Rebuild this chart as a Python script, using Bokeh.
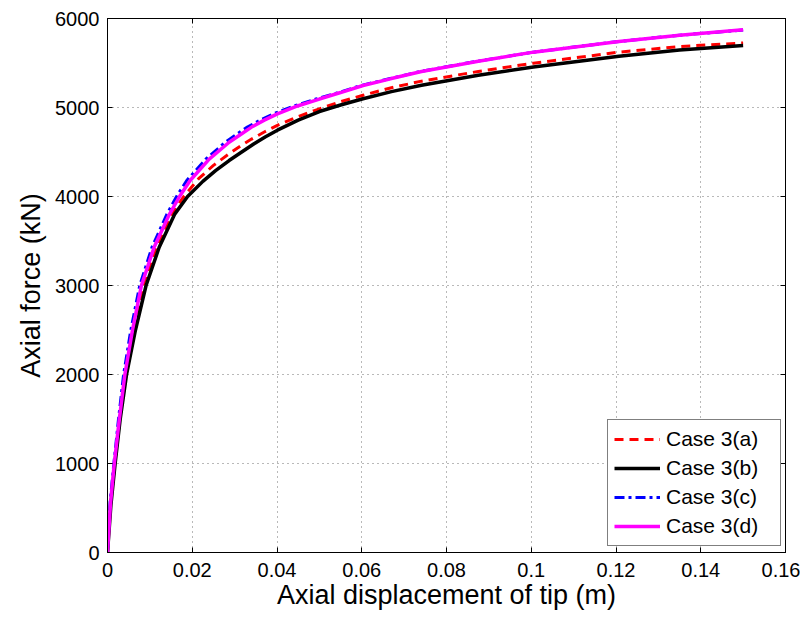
from bokeh.plotting import figure
from bokeh.models import LinearAxis, Range1d, FixedTicker, Legend, LegendItem
from bokeh.embed import file_html
from bokeh.resources import INLINE

# Case 3(a) - red dashed
xa = [0, 0.0007, 0.0017, 0.0029, 0.0042, 0.0061, 0.0084, 0.0115, 0.0152, 0.0180, 0.0215, 0.0250, 0.0287, 0.0315, 0.0340, 0.0370, 0.0401, 0.0450, 0.0500, 0.0550, 0.0603, 0.0670, 0.0741, 0.0875, 0.1005, 0.1207, 0.1350, 0.1500]
ya = [0, 540, 1000, 1500, 2000, 2500, 3000, 3430, 3805, 4000, 4200, 4350, 4480, 4570, 4645, 4725, 4800, 4898, 4985, 5065, 5138, 5222, 5296, 5405, 5498, 5622, 5685, 5725]
# Case 3(b) - black solid
xb = [0, 0.0008, 0.0018, 0.0030, 0.0045, 0.0066, 0.0091, 0.0122, 0.0159, 0.0189, 0.0225, 0.0255, 0.0287, 0.0315, 0.0345, 0.0372, 0.0401, 0.0450, 0.0500, 0.0550, 0.0603, 0.0670, 0.0741, 0.0875, 0.1005, 0.1207, 0.1350, 0.1500]
yb = [0, 530, 1000, 1500, 2000, 2500, 3000, 3430, 3805, 4000, 4170, 4290, 4404, 4494, 4590, 4668, 4745, 4858, 4955, 5028, 5098, 5178, 5250, 5362, 5455, 5575, 5645, 5697]
# Case 3(c) - blue dash-dot
xc = [0, 0.0006, 0.0015, 0.0026, 0.0038, 0.0055, 0.0076, 0.0105, 0.0140, 0.0163, 0.0187, 0.0232, 0.0278, 0.0305, 0.0330, 0.0360, 0.0392, 0.0442, 0.0492, 0.0545, 0.0598, 0.0667, 0.0738, 0.0873, 0.1005, 0.1207, 0.1350, 0.1500]
yc = [0, 560, 1000, 1500, 2000, 2500, 3000, 3430, 3800, 4000, 4180, 4420, 4610, 4700, 4780, 4858, 4929, 5020, 5095, 5168, 5247, 5325, 5404, 5520, 5622, 5742, 5812, 5870]
# Case 3(d) - magenta solid
xd = [0, 0.0007, 0.0016, 0.0028, 0.0041, 0.0059, 0.0080, 0.0110, 0.0146, 0.0170, 0.0195, 0.0240, 0.0287, 0.0315, 0.0340, 0.0370, 0.0401, 0.0450, 0.0500, 0.0550, 0.0603, 0.0670, 0.0741, 0.0875, 0.1005, 0.1207, 0.1350, 0.1500]
yd = [0, 550, 1000, 1500, 2000, 2500, 3000, 3430, 3800, 4000, 4180, 4420, 4610, 4700, 4780, 4858, 4929, 5020, 5095, 5168, 5247, 5325, 5404, 5520, 5622, 5742, 5812, 5873]

x_ticks = [0, 0.02, 0.04, 0.06, 0.08, 0.1, 0.12, 0.14, 0.16]
y_ticks = [0, 1000, 2000, 3000, 4000, 5000, 6000]
x_labels = {0: "0", 0.02: "0.02", 0.04: "0.04", 0.06: "0.06", 0.08: "0.08", 0.1: "0.1", 0.12: "0.12", 0.14: "0.14", 0.16: "0.16"}

FONT = "Liberation Sans"

p = figure(width=800, height=615, output_backend="svg", toolbar_location=None,
           x_range=Range1d(0, 0.16), y_range=Range1d(0, 6000),
           min_border_left=107, min_border_right=15, min_border_top=18, min_border_bottom=63)
p.outline_line_color = "black"
p.outline_line_width = 1

for ax in (p.xaxis[0], p.yaxis[0]):
    ax.major_tick_in = 5
    ax.major_tick_out = 0
    ax.minor_tick_in = 0
    ax.minor_tick_out = 0
    ax.axis_line_color = "black"
    ax.major_label_text_font = FONT
    ax.major_label_text_font_size = "20px"
    ax.major_label_text_color = "black"
    ax.axis_label_text_font = FONT
    ax.axis_label_text_font_size = "27px"
    ax.axis_label_text_font_style = "normal"
    ax.axis_label_text_color = "black"

p.xaxis.ticker = FixedTicker(ticks=x_ticks)
p.xaxis.major_label_overrides = x_labels
p.yaxis.ticker = FixedTicker(ticks=y_ticks)
p.xaxis.axis_label = "Axial displacement of tip (m)"
p.yaxis.axis_label = "Axial force (kN)"
p.xaxis.major_label_standoff = 10
p.xaxis.axis_label_standoff = 0
p.yaxis.major_label_standoff = 8
p.yaxis.axis_label_standoff = 6

# box ticks on top/right (no labels)
top = LinearAxis(ticker=FixedTicker(ticks=x_ticks),
                 major_label_overrides={t: "" for t in x_ticks},
                 major_tick_in=5, major_tick_out=0, minor_tick_in=0, minor_tick_out=0,
                 major_label_standoff=0)
right = LinearAxis(ticker=FixedTicker(ticks=y_ticks),
                   major_label_overrides={t: "" for t in y_ticks},
                   major_tick_in=5, major_tick_out=0, minor_tick_in=0, minor_tick_out=0,
                   major_label_standoff=0)
p.add_layout(top, "above")
p.add_layout(right, "right")

for g in (p.xgrid[0], p.ygrid[0]):
    g.grid_line_color = "black"
    g.grid_line_alpha = 0.55
    g.grid_line_dash = "1 4"
    g.grid_line_width = 1

ra = p.line(xa, ya, line_color="red", line_width=3, line_dash="9 6")
rb = p.line(xb, yb, line_color="black", line_width=3.5)
rc = p.line(xc, yc, line_color="blue", line_width=3, line_dash="10 4 3 4")
rd = p.line(xd, yd, line_color="magenta", line_width=3.5)

legend = Legend(items=[
    LegendItem(label="Case 3(a)", renderers=[ra]),
    LegendItem(label="Case 3(b)", renderers=[rb]),
    LegendItem(label="Case 3(c)", renderers=[rc]),
    LegendItem(label="Case 3(d)", renderers=[rd]),
], location=(500, 6))
legend.border_line_color = "black"
legend.border_line_width = 1
legend.background_fill_alpha = 1
legend.label_text_font = FONT
legend.label_text_font_size = "21px"
legend.label_text_color = "black"
legend.glyph_width = 46
legend.glyph_height = 26
legend.label_height = 26
legend.label_width = 108
legend.label_standoff = 6
legend.spacing = 3
legend.padding = 6
legend.margin = 0
p.add_layout(legend, "center")

open("out.html", "w").write(file_html(p, INLINE))
